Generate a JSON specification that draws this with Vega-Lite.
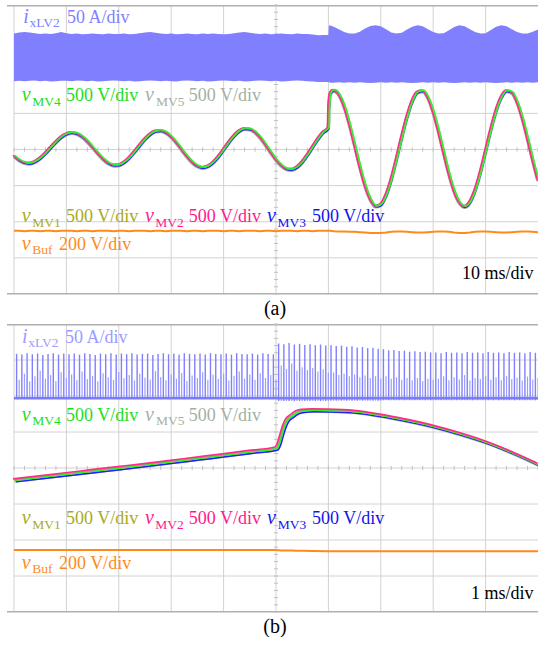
{
"$schema":"https://vega.github.io/schema/vega-lite/v6.json",
"padding":{"left":0,"top":4,"right":0,"bottom":0},
"spacing":30,
"bounds":"flush",
"config":{"view":{"stroke":null},"axis":{"disable":true},
 "title":{"font":"Liberation Serif","fontSize":20,"fontWeight":"normal","color":"#000000","orient":"bottom","anchor":"middle","frame":"group","baseline":"alphabetic","offset":4,"dx":6}},
"datasets":{
"gx":[{"g":0},{"g":1},{"g":2},{"g":3},{"g":4},{"g":5},{"g":6},{"g":7},{"g":8},{"g":9}],
"gy":[{"h":-3},{"h":-2},{"h":-1},{"h":0},{"h":1},{"h":2},{"h":3}],
"bd":[{"h":3.98},{"h":-3.99}],
"tk":[{"v":-4},{"v":-3.8},{"v":-3.6},{"v":-3.4},{"v":-3.2},{"v":-3},{"v":-2.8},{"v":-2.6},{"v":-2.4},{"v":-2.2},{"v":-2},{"v":-1.8},{"v":-1.6},{"v":-1.4},{"v":-1.2},{"v":-1},{"v":-0.8},{"v":-0.6},{"v":-0.4},{"v":-0.2},{"v":0},{"v":0.2},{"v":0.4},{"v":0.6},{"v":0.8},{"v":1},{"v":1.2},{"v":1.4},{"v":1.6},{"v":1.8},{"v":2},{"v":2.2},{"v":2.4},{"v":2.6},{"v":2.8},{"v":3},{"v":3.2},{"v":3.4},{"v":3.6},{"v":3.8},{"v":4},{"v":4.2},{"v":4.4},{"v":4.6},{"v":4.8},{"v":5},{"v":5.2},{"v":5.4},{"v":5.6},{"v":5.8},{"v":6},{"v":6.2},{"v":6.4},{"v":6.6},{"v":6.8},{"v":7},{"v":7.2},{"v":7.4},{"v":7.6},{"v":7.8},{"v":8},{"v":8.2},{"v":8.4},{"v":8.6},{"v":8.8},{"v":9},{"v":9.2},{"v":9.4},{"v":9.6},{"v":9.8},{"v":10}],
"a":[
{"t":0.0,"v":-0.160,"it":3.21,"ib":1.89,"bf":-2.25},
{"t":0.1,"v":-0.273,"it":3.24,"ib":1.90,"bf":-2.25},
{"t":0.2,"v":-0.343,"it":3.25,"ib":1.89,"bf":-2.26},
{"t":0.3,"v":-0.358,"it":3.24,"ib":1.90,"bf":-2.25},
{"t":0.4,"v":-0.315,"it":3.22,"ib":1.91,"bf":-2.25},
{"t":0.5,"v":-0.220,"it":3.20,"ib":1.89,"bf":-2.26},
{"t":0.6,"v":-0.085,"it":3.21,"ib":1.90,"bf":-2.25},
{"t":0.7,"v":0.072,"it":3.20,"ib":1.88,"bf":-2.25},
{"t":0.8,"v":0.228,"it":3.22,"ib":1.89,"bf":-2.26},
{"t":0.9,"v":0.362,"it":3.25,"ib":1.90,"bf":-2.25},
{"t":1.0,"v":0.453,"it":3.22,"ib":1.90,"bf":-2.25},
{"t":1.1,"v":0.489,"it":3.20,"ib":1.89,"bf":-2.25},
{"t":1.2,"v":0.462,"it":3.21,"ib":1.91,"bf":-2.26},
{"t":1.3,"v":0.377,"it":3.19,"ib":1.90,"bf":-2.25},
{"t":1.4,"v":0.245,"it":3.20,"ib":1.89,"bf":-2.25},
{"t":1.5,"v":0.083,"it":3.21,"ib":1.90,"bf":-2.26},
{"t":1.6,"v":-0.087,"it":3.20,"ib":1.88,"bf":-2.25},
{"t":1.7,"v":-0.240,"it":3.19,"ib":1.89,"bf":-2.25},
{"t":1.8,"v":-0.354,"it":3.21,"ib":1.90,"bf":-2.25},
{"t":1.9,"v":-0.412,"it":3.20,"ib":1.91,"bf":-2.26},
{"t":2.0,"v":-0.406,"it":3.20,"ib":1.90,"bf":-2.25},
{"t":2.1,"v":-0.335,"it":3.21,"ib":1.89,"bf":-2.25},
{"t":2.2,"v":-0.208,"it":3.19,"ib":1.90,"bf":-2.26},
{"t":2.3,"v":-0.043,"it":3.20,"ib":1.88,"bf":-2.25},
{"t":2.4,"v":0.138,"it":3.22,"ib":1.89,"bf":-2.25},
{"t":2.5,"v":0.309,"it":3.24,"ib":1.90,"bf":-2.25},
{"t":2.6,"v":0.446,"it":3.25,"ib":1.91,"bf":-2.26},
{"t":2.7,"v":0.529,"it":3.23,"ib":1.90,"bf":-2.25},
{"t":2.8,"v":0.545,"it":3.21,"ib":1.89,"bf":-2.25},
{"t":2.9,"v":0.490,"it":3.20,"ib":1.90,"bf":-2.26},
{"t":3.0,"v":0.373,"it":3.21,"ib":1.89,"bf":-2.25},
{"t":3.1,"v":0.209,"it":3.19,"ib":1.88,"bf":-2.25},
{"t":3.2,"v":0.019,"it":3.20,"ib":1.90,"bf":-2.25},
{"t":3.3,"v":-0.169,"it":3.21,"ib":1.91,"bf":-2.26},
{"t":3.4,"v":-0.328,"it":3.20,"ib":1.90,"bf":-2.25},
{"t":3.5,"v":-0.435,"it":3.19,"ib":1.89,"bf":-2.25},
{"t":3.6,"v":-0.476,"it":3.21,"ib":1.90,"bf":-2.26},
{"t":3.7,"v":-0.442,"it":3.20,"ib":1.88,"bf":-2.25},
{"t":3.8,"v":-0.339,"it":3.21,"ib":1.89,"bf":-2.25},
{"t":3.9,"v":-0.179,"it":3.20,"ib":1.90,"bf":-2.25},
{"t":4.0,"v":0.016,"it":3.19,"ib":1.91,"bf":-2.26},
{"t":4.1,"v":0.219,"it":3.20,"ib":1.90,"bf":-2.25},
{"t":4.2,"v":0.400,"it":3.22,"ib":1.89,"bf":-2.25},
{"t":4.3,"v":0.533,"it":3.24,"ib":1.90,"bf":-2.26},
{"t":4.4,"v":0.600,"it":3.25,"ib":1.88,"bf":-2.25},
{"t":4.5,"v":0.590,"it":3.23,"ib":1.89,"bf":-2.25},
{"t":4.6,"v":0.503,"it":3.21,"ib":1.90,"bf":-2.25},
{"t":4.7,"v":0.351,"it":3.20,"ib":1.91,"bf":-2.26},
{"t":4.8,"v":0.155,"it":3.21,"ib":1.90,"bf":-2.25},
{"t":4.9,"v":-0.059,"it":3.19,"ib":1.89,"bf":-2.25},
{"t":5.0,"v":-0.260,"it":3.20,"ib":1.90,"bf":-2.26},
{"t":5.1,"v":-0.419,"it":3.21,"ib":1.88,"bf":-2.25},
{"t":5.2,"v":-0.515,"it":3.20,"ib":1.89,"bf":-2.25},
{"t":5.3,"v":-0.530,"it":3.19,"ib":1.90,"bf":-2.25},
{"t":5.4,"v":-0.465,"it":3.21,"ib":1.91,"bf":-2.26},
{"t":5.5,"v":-0.325,"it":3.20,"ib":1.90,"bf":-2.25},
{"t":5.6,"v":-0.130,"it":3.20,"ib":1.89,"bf":-2.25},
{"t":5.7,"v":0.092,"it":3.18,"ib":1.88,"bf":-2.26},
{"t":5.8,"v":0.310,"it":3.16,"ib":1.87,"bf":-2.25},
{"t":5.9,"v":0.495,"it":3.17,"ib":1.87,"bf":-2.25},
{"t":6.0,"v":0.619,"it":3.17,"ib":1.87,"bf":-2.25},
{"t":6.01,"v":1.20,"it":3.43,"ib":1.86,"bf":-2.25},
{"t":6.04,"v":1.58,"it":3.43,"ib":1.85,"bf":-2.25},
{"t":6.1,"v":1.657,"it":3.40,"ib":1.85,"bf":-2.26},
{"t":6.2,"v":1.544,"it":3.33,"ib":1.86,"bf":-2.27},
{"t":6.3,"v":1.221,"it":3.25,"ib":1.85,"bf":-2.27},
{"t":6.4,"v":0.731,"it":3.21,"ib":1.86,"bf":-2.28},
{"t":6.5,"v":0.148,"it":3.21,"ib":1.85,"bf":-2.28},
{"t":6.6,"v":-0.450,"it":3.26,"ib":1.86,"bf":-2.29},
{"t":6.7,"v":-0.977,"it":3.35,"ib":1.85,"bf":-2.30},
{"t":6.8,"v":-1.359,"it":3.42,"ib":1.84,"bf":-2.31},
{"t":6.9,"v":-1.546,"it":3.44,"ib":1.85,"bf":-2.31},
{"t":7.0,"v":-1.506,"it":3.41,"ib":1.86,"bf":-2.31},
{"t":7.1,"v":-1.247,"it":3.33,"ib":1.85,"bf":-2.30},
{"t":7.2,"v":-0.807,"it":3.24,"ib":1.86,"bf":-2.28},
{"t":7.3,"v":-0.242,"it":3.21,"ib":1.85,"bf":-2.27},
{"t":7.4,"v":0.360,"it":3.23,"ib":1.86,"bf":-2.27},
{"t":7.5,"v":0.918,"it":3.32,"ib":1.85,"bf":-2.28},
{"t":7.6,"v":1.355,"it":3.40,"ib":1.84,"bf":-2.29},
{"t":7.7,"v":1.609,"it":3.44,"ib":1.85,"bf":-2.30},
{"t":7.8,"v":1.643,"it":3.41,"ib":1.86,"bf":-2.30},
{"t":7.9,"v":1.453,"it":3.33,"ib":1.85,"bf":-2.29},
{"t":8.0,"v":1.066,"it":3.25,"ib":1.86,"bf":-2.28},
{"t":8.1,"v":0.535,"it":3.21,"ib":1.85,"bf":-2.27},
{"t":8.2,"v":-0.062,"it":3.22,"ib":1.86,"bf":-2.27},
{"t":8.3,"v":-0.647,"it":3.30,"ib":1.85,"bf":-2.28},
{"t":8.4,"v":-1.131,"it":3.39,"ib":1.84,"bf":-2.30},
{"t":8.5,"v":-1.449,"it":3.44,"ib":1.85,"bf":-2.31},
{"t":8.6,"v":-1.557,"it":3.41,"ib":1.86,"bf":-2.31},
{"t":8.7,"v":-1.438,"it":3.33,"ib":1.85,"bf":-2.30},
{"t":8.8,"v":-1.110,"it":3.25,"ib":1.86,"bf":-2.28},
{"t":8.9,"v":-0.619,"it":3.21,"ib":1.85,"bf":-2.27},
{"t":9.0,"v":-0.034,"it":3.22,"ib":1.86,"bf":-2.27},
{"t":9.1,"v":0.563,"it":3.31,"ib":1.85,"bf":-2.28},
{"t":9.2,"v":1.090,"it":3.40,"ib":1.84,"bf":-2.29},
{"t":9.3,"v":1.467,"it":3.44,"ib":1.85,"bf":-2.30},
{"t":9.4,"v":1.647,"it":3.41,"ib":1.86,"bf":-2.30},
{"t":9.5,"v":1.601,"it":3.33,"ib":1.85,"bf":-2.29},
{"t":9.6,"v":1.337,"it":3.25,"ib":1.86,"bf":-2.28},
{"t":9.7,"v":0.892,"it":3.21,"ib":1.85,"bf":-2.27},
{"t":9.8,"v":0.330,"it":3.21,"ib":1.86,"bf":-2.27},
{"t":9.9,"v":-0.273,"it":3.26,"ib":1.85,"bf":-2.28},
{"t":10.0,"v":-0.830,"it":3.32,"ib":1.86,"bf":-2.29}
],
"b":[
{"t":0,"v":-0.33,"bf":-2.28},{"t":0.5,"v":-0.245,"bf":-2.28},{"t":1,"v":-0.16,"bf":-2.28},{"t":1.5,"v":-0.075,"bf":-2.28},
{"t":2,"v":0.01,"bf":-2.28},{"t":2.5,"v":0.095,"bf":-2.28},{"t":3,"v":0.185,"bf":-2.28},{"t":3.5,"v":0.275,"bf":-2.28},
{"t":4,"v":0.365,"bf":-2.28},{"t":4.5,"v":0.46,"bf":-2.28},{"t":5.0,"v":0.555,"bf":-2.28},{"t":5.05,"v":0.69,"bf":-2.285},
{"t":5.1,"v":0.94,"bf":-2.29},{"t":5.15,"v":1.17,"bf":-2.29},{"t":5.2,"v":1.33,"bf":-2.29},{"t":5.3,"v":1.46,"bf":-2.295},
{"t":5.4,"v":1.56,"bf":-2.30},{"t":5.5,"v":1.60,"bf":-2.30},{"t":5.7,"v":1.615,"bf":-2.305},{"t":6.0,"v":1.61,"bf":-2.31},
{"t":6.5,"v":1.575,"bf":-2.31},{"t":7,"v":1.47,"bf":-2.31},{"t":7.5,"v":1.33,"bf":-2.31},{"t":8,"v":1.165,"bf":-2.31},
{"t":8.5,"v":0.965,"bf":-2.31},{"t":9,"v":0.73,"bf":-2.31},{"t":9.5,"v":0.44,"bf":-2.31},{"t":10,"v":0.11,"bf":-2.31}
],
"s":[
{"t":0.05,"tp":3.17,"md":2.45,"bt":1.93},{"t":0.15,"tp":3.15,"md":2.62,"bt":1.93},{"t":0.25,"tp":3.19,"md":2.40,"bt":1.93},{"t":0.35,"tp":3.16,"md":2.55,"bt":1.93},{"t":0.45,"tp":3.18,"md":2.70,"bt":1.93},
{"t":0.55,"tp":3.14,"md":2.48,"bt":1.93},{"t":0.65,"tp":3.17,"md":2.58,"bt":1.93},{"t":0.75,"tp":3.19,"md":2.42,"bt":1.93},{"t":0.85,"tp":3.15,"md":2.66,"bt":1.93},{"t":0.95,"tp":3.18,"md":2.50,"bt":1.93},
{"t":1.05,"tp":3.16,"md":2.60,"bt":1.93},{"t":1.15,"tp":3.18,"md":2.44,"bt":1.93},{"t":1.25,"tp":3.15,"md":2.68,"bt":1.93},{"t":1.35,"tp":3.19,"md":2.47,"bt":1.93},{"t":1.45,"tp":3.17,"md":2.56,"bt":1.93},
{"t":1.55,"tp":3.14,"md":2.41,"bt":1.93},{"t":1.65,"tp":3.18,"md":2.63,"bt":1.93},{"t":1.75,"tp":3.16,"md":2.52,"bt":1.93},{"t":1.85,"tp":3.19,"md":2.45,"bt":1.93},{"t":1.95,"tp":3.15,"md":2.67,"bt":1.93},
{"t":2.05,"tp":3.18,"md":2.49,"bt":1.93},{"t":2.15,"tp":3.16,"md":2.58,"bt":1.93},{"t":2.25,"tp":3.19,"md":2.43,"bt":1.93},{"t":2.35,"tp":3.15,"md":2.62,"bt":1.93},{"t":2.45,"tp":3.17,"md":2.51,"bt":1.93},
{"t":2.55,"tp":3.18,"md":2.46,"bt":1.93},{"t":2.65,"tp":3.14,"md":2.69,"bt":1.93},{"t":2.75,"tp":3.17,"md":2.53,"bt":1.93},{"t":2.85,"tp":3.19,"md":2.44,"bt":1.93},{"t":2.95,"tp":3.16,"md":2.60,"bt":1.93},
{"t":3.05,"tp":3.18,"md":2.48,"bt":1.93},{"t":3.15,"tp":3.15,"md":2.64,"bt":1.93},{"t":3.25,"tp":3.19,"md":2.42,"bt":1.93},{"t":3.35,"tp":3.17,"md":2.57,"bt":1.93},{"t":3.45,"tp":3.16,"md":2.50,"bt":1.93},
{"t":3.55,"tp":3.18,"md":2.66,"bt":1.93},{"t":3.65,"tp":3.15,"md":2.45,"bt":1.93},{"t":3.75,"tp":3.19,"md":2.59,"bt":1.93},{"t":3.85,"tp":3.17,"md":2.47,"bt":1.93},{"t":3.95,"tp":3.16,"md":2.62,"bt":1.93},
{"t":4.05,"tp":3.18,"md":2.43,"bt":1.93},{"t":4.15,"tp":3.15,"md":2.56,"bt":1.93},{"t":4.25,"tp":3.19,"md":2.68,"bt":1.93},{"t":4.35,"tp":3.17,"md":2.48,"bt":1.93},{"t":4.45,"tp":3.16,"md":2.60,"bt":1.93},
{"t":4.55,"tp":3.18,"md":2.45,"bt":1.93},{"t":4.65,"tp":3.15,"md":2.63,"bt":1.93},{"t":4.75,"tp":3.19,"md":2.50,"bt":1.93},{"t":4.85,"tp":3.17,"md":2.58,"bt":1.93},{"t":4.95,"tp":3.16,"md":2.46,"bt":1.93},
{"t":5.05,"tp":3.46,"md":2.85,"bt":1.86},{"t":5.15,"tp":3.44,"md":2.75,"bt":1.86},{"t":5.25,"tp":3.47,"md":2.90,"bt":1.86},{"t":5.35,"tp":3.43,"md":2.70,"bt":1.86},{"t":5.45,"tp":3.45,"md":2.80,"bt":1.86},
{"t":5.55,"tp":3.42,"md":2.72,"bt":1.86},{"t":5.65,"tp":3.44,"md":2.78,"bt":1.86},{"t":5.75,"tp":3.41,"md":2.68,"bt":1.86},{"t":5.85,"tp":3.43,"md":2.74,"bt":1.86},{"t":5.95,"tp":3.40,"md":2.65,"bt":1.86},
{"t":6.05,"tp":3.41,"md":2.65,"bt":1.87},{"t":6.15,"tp":3.39,"md":2.58,"bt":1.87},{"t":6.25,"tp":3.40,"md":2.62,"bt":1.87},{"t":6.35,"tp":3.37,"md":2.55,"bt":1.87},{"t":6.45,"tp":3.38,"md":2.60,"bt":1.87},
{"t":6.55,"tp":3.35,"md":2.52,"bt":1.87},{"t":6.65,"tp":3.36,"md":2.57,"bt":1.87},{"t":6.75,"tp":3.33,"md":2.50,"bt":1.87},{"t":6.85,"tp":3.34,"md":2.55,"bt":1.87},{"t":6.95,"tp":3.31,"md":2.48,"bt":1.87},
{"t":7.05,"tp":3.30,"md":2.55,"bt":1.88},{"t":7.15,"tp":3.27,"md":2.48,"bt":1.88},{"t":7.25,"tp":3.28,"md":2.52,"bt":1.88},{"t":7.35,"tp":3.25,"md":2.45,"bt":1.88},{"t":7.45,"tp":3.26,"md":2.50,"bt":1.88},
{"t":7.55,"tp":3.23,"md":2.44,"bt":1.88},{"t":7.65,"tp":3.24,"md":2.50,"bt":1.88},{"t":7.75,"tp":3.22,"md":2.42,"bt":1.88},{"t":7.85,"tp":3.23,"md":2.48,"bt":1.88},{"t":7.95,"tp":3.21,"md":2.45,"bt":1.88},
{"t":8.05,"tp":3.21,"md":2.48,"bt":1.88},{"t":8.15,"tp":3.19,"md":2.55,"bt":1.88},{"t":8.25,"tp":3.22,"md":2.44,"bt":1.88},{"t":8.35,"tp":3.20,"md":2.52,"bt":1.88},{"t":8.45,"tp":3.21,"md":2.46,"bt":1.88},
{"t":8.55,"tp":3.19,"md":2.58,"bt":1.88},{"t":8.65,"tp":3.22,"md":2.43,"bt":1.88},{"t":8.75,"tp":3.20,"md":2.50,"bt":1.88},{"t":8.85,"tp":3.21,"md":2.47,"bt":1.88},{"t":8.95,"tp":3.19,"md":2.55,"bt":1.88},
{"t":9.05,"tp":3.22,"md":2.45,"bt":1.88},{"t":9.15,"tp":3.20,"md":2.52,"bt":1.88},{"t":9.25,"tp":3.21,"md":2.44,"bt":1.88},{"t":9.35,"tp":3.19,"md":2.56,"bt":1.88},{"t":9.45,"tp":3.22,"md":2.47,"bt":1.88},
{"t":9.55,"tp":3.20,"md":2.51,"bt":1.88},{"t":9.65,"tp":3.21,"md":2.43,"bt":1.88},{"t":9.75,"tp":3.19,"md":2.54,"bt":1.88},{"t":9.85,"tp":3.22,"md":2.46,"bt":1.88},{"t":9.95,"tp":3.20,"md":2.50,"bt":1.88}
],
"la":[
{"x":0.175,"y":3.51,"s":"i","r":"it","c":"ia"},
{"x":0.296,"y":3.38,"s":"xLV2","r":"sub","c":"ia"},
{"x":1.011,"y":3.51,"s":"50 A/div","r":"tx","c":"ia"},
{"x":0.147,"y":1.343,"s":"v","r":"it","c":"g"},
{"x":0.349,"y":1.204,"s":"MV4","r":"sub","c":"g"},
{"x":0.992,"y":1.343,"s":"500 V/div","r":"tx","c":"g"},
{"x":2.498,"y":1.343,"s":"v","r":"it","c":"gr"},
{"x":2.708,"y":1.204,"s":"MV5","r":"sub","c":"gr"},
{"x":3.337,"y":1.343,"s":"500 V/div","r":"tx","c":"gr"},
{"x":0.147,"y":-2.007,"s":"v","r":"it","c":"ol"},
{"x":0.349,"y":-2.145,"s":"MV1","r":"sub","c":"ol"},
{"x":0.992,"y":-2.007,"s":"500 V/div","r":"tx","c":"ol"},
{"x":2.498,"y":-2.007,"s":"v","r":"it","c":"pk"},
{"x":2.698,"y":-2.145,"s":"MV2","r":"sub","c":"pk"},
{"x":3.337,"y":-2.007,"s":"500 V/div","r":"tx","c":"pk"},
{"x":4.83,"y":-2.007,"s":"v","r":"it","c":"bl"},
{"x":5.03,"y":-2.145,"s":"MV3","r":"sub","c":"bl"},
{"x":5.688,"y":-2.007,"s":"500 V/div","r":"tx","c":"bl"},
{"x":0.147,"y":-2.782,"s":"v","r":"it","c":"or"},
{"x":0.349,"y":-2.90,"s":"Buf","r":"sub","c":"or"},
{"x":0.858,"y":-2.782,"s":"200 V/div","r":"tx","c":"or"},
{"x":8.549,"y":-3.594,"s":"10 ms/div","r":"tx","c":"k"}
],
"lb":[
{"x":0.155,"y":3.48,"s":"i","r":"it","c":"ib"},
{"x":0.273,"y":3.36,"s":"xLV2","r":"sub","c":"ib"},
{"x":0.973,"y":3.48,"s":"50 A/div","r":"tx","c":"ib"},
{"x":0.147,"y":1.306,"s":"v","r":"it","c":"g"},
{"x":0.349,"y":1.186,"s":"MV4","r":"sub","c":"g"},
{"x":0.992,"y":1.306,"s":"500 V/div","r":"tx","c":"g"},
{"x":2.498,"y":1.306,"s":"v","r":"it","c":"gr"},
{"x":2.708,"y":1.186,"s":"MV5","r":"sub","c":"gr"},
{"x":3.337,"y":1.306,"s":"500 V/div","r":"tx","c":"gr"},
{"x":0.147,"y":-1.564,"s":"v","r":"it","c":"ol"},
{"x":0.349,"y":-1.686,"s":"MV1","r":"sub","c":"ol"},
{"x":0.992,"y":-1.564,"s":"500 V/div","r":"tx","c":"ol"},
{"x":2.498,"y":-1.564,"s":"v","r":"it","c":"pk"},
{"x":2.698,"y":-1.686,"s":"MV2","r":"sub","c":"pk"},
{"x":3.337,"y":-1.564,"s":"500 V/div","r":"tx","c":"pk"},
{"x":4.83,"y":-1.564,"s":"v","r":"it","c":"bl"},
{"x":5.034,"y":-1.686,"s":"MV3","r":"sub","c":"bl"},
{"x":5.688,"y":-1.564,"s":"500 V/div","r":"tx","c":"bl"},
{"x":0.147,"y":-2.814,"s":"v","r":"it","c":"or"},
{"x":0.349,"y":-2.925,"s":"Buf","r":"sub","c":"or"},
{"x":0.858,"y":-2.814,"s":"200 V/div","r":"tx","c":"or"},
{"x":8.72,"y":-3.647,"s":"1 ms/div","r":"tx","c":"k"}
]
},
"vconcat":[
{
"width":538,"height":289,
"title":"(a)",
"layer":[
{"data":{"name":"gx"},"mark":{"type":"rule","color":"#d2d2d2","strokeWidth":1},
 "encoding":{"x":{"field":"g","type":"quantitative","scale":{"domain":[-0.267,10],"nice":false,"zero":false}},
  "y":{"datum":4,"type":"quantitative","scale":{"domain":[-4,4],"nice":false,"zero":false}},"y2":{"datum":-4}}},
{"data":{"name":"gy"},"mark":{"type":"rule","color":"#d2d2d2","strokeWidth":1},
 "encoding":{"y":{"field":"h","type":"quantitative"},"x":{"datum":0,"type":"quantitative"},"x2":{"datum":10}}},
{"data":{"name":"bd"},"mark":{"type":"rule","color":"#b0b0b0","strokeWidth":1.5},
 "encoding":{"y":{"field":"h","type":"quantitative"},"x":{"datum":-0.134,"type":"quantitative"},"x2":{"datum":10}}},
{"data":{"name":"tk"},"transform":[{"filter":"datum.v >= 0"}],"mark":{"type":"rule","color":"#c0c0c0","strokeWidth":1},
 "encoding":{"x":{"field":"v","type":"quantitative"},"y":{"datum":-0.06,"type":"quantitative"},"y2":{"datum":0.06}}},
{"data":{"name":"tk"},"transform":[{"filter":"datum.v <= 4"}],"mark":{"type":"rule","color":"#c0c0c0","strokeWidth":1},
 "encoding":{"y":{"field":"v","type":"quantitative"},"x":{"datum":4.96,"type":"quantitative"},"x2":{"datum":5.04}}},
{"data":{"name":"a"},"mark":{"type":"area","color":"#8080ff","opacity":1},
 "encoding":{"x":{"field":"t","type":"quantitative"},"y":{"field":"it","type":"quantitative"},"y2":{"field":"ib"}}},
{"data":{"name":"a"},"mark":{"type":"line","color":"#ff8a1a","strokeWidth":2},
 "encoding":{"x":{"field":"t","type":"quantitative"},"y":{"field":"bf","type":"quantitative"}}},
{"data":{"name":"a"},"mark":{"type":"line","color":"#a4b2a4","strokeWidth":3.5,"interpolate":"monotone","yOffset":1.5},
 "encoding":{"x":{"field":"t","type":"quantitative"},"y":{"field":"v","type":"quantitative"}}},
{"data":{"name":"a"},"mark":{"type":"line","color":"#2a2aff","strokeWidth":1.3,"interpolate":"monotone","yOffset":1.8,"xOffset":0.5},
 "encoding":{"x":{"field":"t","type":"quantitative"},"y":{"field":"v","type":"quantitative"}}},
{"data":{"name":"a"},"mark":{"type":"line","color":"#b0b030","strokeWidth":1.5,"interpolate":"monotone","yOffset":0.6},
 "encoding":{"x":{"field":"t","type":"quantitative"},"y":{"field":"v","type":"quantitative"}}},
{"data":{"name":"a"},"mark":{"type":"line","color":"#ff2a8a","strokeWidth":1.6,"interpolate":"monotone","xOffset":-1},
 "encoding":{"x":{"field":"t","type":"quantitative"},"y":{"field":"v","type":"quantitative"}}},
{"data":{"name":"a"},"mark":{"type":"line","color":"#33ee33","strokeWidth":1.6,"interpolate":"monotone","xOffset":0.8},
 "encoding":{"x":{"field":"t","type":"quantitative"},"y":{"field":"v","type":"quantitative"}}},
{"data":{"name":"la"},"transform":[{"filter":"datum.r == 'it'"}],
 "mark":{"type":"text","align":"left","baseline":"alphabetic","font":"Liberation Serif","fontSize":20,"fontStyle":"italic"},
 "encoding":{"x":{"field":"x","type":"quantitative"},"y":{"field":"y","type":"quantitative"},"text":{"field":"s"},
  "color":{"field":"c","type":"nominal","legend":null,"scale":{"domain":["ia","ib","g","gr","ol","pk","bl","or","k"],"range":["#8282ff","#9c9cff","#22dd22","#a4b0a4","#aaaa22","#ff1a8c","#1414ee","#ff8a1a","#000000"]}}}},
{"data":{"name":"la"},"transform":[{"filter":"datum.r == 'sub'"}],
 "mark":{"type":"text","align":"left","baseline":"alphabetic","font":"Liberation Serif","fontSize":13.5},
 "encoding":{"x":{"field":"x","type":"quantitative"},"y":{"field":"y","type":"quantitative"},"text":{"field":"s"},
  "color":{"field":"c","type":"nominal","legend":null}}},
{"data":{"name":"la"},"transform":[{"filter":"datum.r == 'tx'"}],
 "mark":{"type":"text","align":"left","baseline":"alphabetic","font":"Liberation Serif","fontSize":18},
 "encoding":{"x":{"field":"x","type":"quantitative"},"y":{"field":"y","type":"quantitative"},"text":{"field":"s"},
  "color":{"field":"c","type":"nominal","legend":null}}}
]
},
{
"width":538,"height":288,
"title":"(b)",
"layer":[
{"data":{"name":"gx"},"mark":{"type":"rule","color":"#d2d2d2","strokeWidth":1},
 "encoding":{"x":{"field":"g","type":"quantitative","scale":{"domain":[-0.267,10],"nice":false,"zero":false}},
  "y":{"datum":4,"type":"quantitative","scale":{"domain":[-4,4],"nice":false,"zero":false}},"y2":{"datum":-4}}},
{"data":{"name":"gy"},"mark":{"type":"rule","color":"#d2d2d2","strokeWidth":1},
 "encoding":{"y":{"field":"h","type":"quantitative"},"x":{"datum":0,"type":"quantitative"},"x2":{"datum":10}}},
{"data":{"name":"bd"},"mark":{"type":"rule","color":"#b0b0b0","strokeWidth":1.5},
 "encoding":{"y":{"field":"h","type":"quantitative"},"x":{"datum":-0.134,"type":"quantitative"},"x2":{"datum":10}}},
{"data":{"name":"tk"},"transform":[{"filter":"datum.v >= 0"}],"mark":{"type":"rule","color":"#c0c0c0","strokeWidth":1},
 "encoding":{"x":{"field":"v","type":"quantitative"},"y":{"datum":-0.06,"type":"quantitative"},"y2":{"datum":0.06}}},
{"data":{"name":"tk"},"transform":[{"filter":"datum.v <= 4"}],"mark":{"type":"rule","color":"#c0c0c0","strokeWidth":1},
 "encoding":{"y":{"field":"v","type":"quantitative"},"x":{"datum":4.96,"type":"quantitative"},"x2":{"datum":5.04}}},
{"data":{"name":"s"},"mark":{"type":"rule","color":"#9e9eff","strokeWidth":1.2,"xOffset":2.6},
 "encoding":{"x":{"field":"t","type":"quantitative"},"y":{"field":"bt","type":"quantitative"},"y2":{"field":"md"}}},
{"data":{"name":"s"},"mark":{"type":"rule","color":"#8080ff","strokeWidth":1.4},
 "encoding":{"x":{"field":"t","type":"quantitative"},"y":{"field":"bt","type":"quantitative"},"y2":{"field":"tp"}}},
{"data":{"values":[{"h":1.935}]},"mark":{"type":"rule","color":"#7a7aff","strokeWidth":2.5},
 "encoding":{"y":{"field":"h","type":"quantitative"},"x":{"datum":0,"type":"quantitative"},"x2":{"datum":10}}},
{"data":{"name":"b"},"mark":{"type":"line","color":"#ff8a1a","strokeWidth":2},
 "encoding":{"x":{"field":"t","type":"quantitative"},"y":{"field":"bf","type":"quantitative"}}},
{"data":{"name":"b"},"mark":{"type":"line","color":"#a4b2a4","strokeWidth":3.5,"interpolate":"monotone","yOffset":1.2,"xOffset":0.8},
 "encoding":{"x":{"field":"t","type":"quantitative"},"y":{"field":"v","type":"quantitative"}}},
{"data":{"name":"b"},"mark":{"type":"line","color":"#2020ff","strokeWidth":1.5,"interpolate":"monotone","yOffset":2,"xOffset":2},
 "encoding":{"x":{"field":"t","type":"quantitative"},"y":{"field":"v","type":"quantitative"}}},
{"data":{"name":"b"},"mark":{"type":"line","color":"#b0b030","strokeWidth":1.5,"interpolate":"monotone","yOffset":0.5},
 "encoding":{"x":{"field":"t","type":"quantitative"},"y":{"field":"v","type":"quantitative"}}},
{"data":{"name":"b"},"mark":{"type":"line","color":"#33ee33","strokeWidth":1.7,"interpolate":"monotone","xOffset":0.8,"yOffset":0.3},
 "encoding":{"x":{"field":"t","type":"quantitative"},"y":{"field":"v","type":"quantitative"}}},
{"data":{"name":"b"},"mark":{"type":"line","color":"#ff2a8a","strokeWidth":1.7,"interpolate":"monotone","xOffset":-1,"yOffset":-1},
 "encoding":{"x":{"field":"t","type":"quantitative"},"y":{"field":"v","type":"quantitative"}}},
{"data":{"name":"lb"},"transform":[{"filter":"datum.r == 'it'"}],
 "mark":{"type":"text","align":"left","baseline":"alphabetic","font":"Liberation Serif","fontSize":20,"fontStyle":"italic"},
 "encoding":{"x":{"field":"x","type":"quantitative"},"y":{"field":"y","type":"quantitative"},"text":{"field":"s"},
  "color":{"field":"c","type":"nominal","legend":null,"scale":{"domain":["ia","ib","g","gr","ol","pk","bl","or","k"],"range":["#8282ff","#9c9cff","#22dd22","#a4b0a4","#aaaa22","#ff1a8c","#1414ee","#ff8a1a","#000000"]}}}},
{"data":{"name":"lb"},"transform":[{"filter":"datum.r == 'sub'"}],
 "mark":{"type":"text","align":"left","baseline":"alphabetic","font":"Liberation Serif","fontSize":13.5},
 "encoding":{"x":{"field":"x","type":"quantitative"},"y":{"field":"y","type":"quantitative"},"text":{"field":"s"},
  "color":{"field":"c","type":"nominal","legend":null}}},
{"data":{"name":"lb"},"transform":[{"filter":"datum.r == 'tx'"}],
 "mark":{"type":"text","align":"left","baseline":"alphabetic","font":"Liberation Serif","fontSize":18},
 "encoding":{"x":{"field":"x","type":"quantitative"},"y":{"field":"y","type":"quantitative"},"text":{"field":"s"},
  "color":{"field":"c","type":"nominal","legend":null}}}
]
}
]
}
